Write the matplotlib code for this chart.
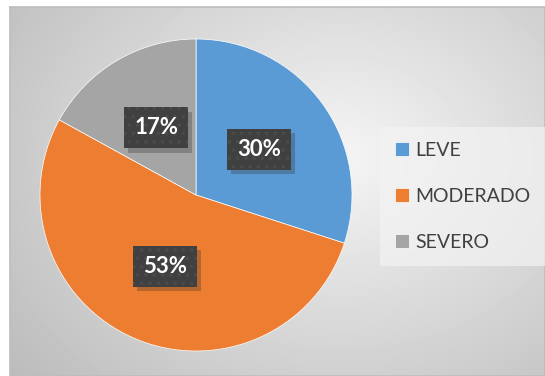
import numpy as np
import matplotlib
matplotlib.use('Agg')
import matplotlib.pyplot as plt
import matplotlib.patheffects as pe

categories = ['LEVE', 'MODERADO', 'SEVERO']
shares = [30, 53, 17]
colors = ['#5B9BD5', '#ED7D31', '#A5A5A5']


class PlainShadow(pe.SimplePatchShadow):
    """Drop shadow that ignores the hatch of the patch it follows."""

    def draw_path(self, renderer, gc, tpath, affine, rgbFace):
        gc1 = renderer.new_gc()
        gc1.copy_properties(gc)
        gc1.set_hatch(None)
        super().draw_path(renderer, gc1, tpath, affine, rgbFace)
        gc1.restore()


W, H = 545, 376
fig = plt.figure(figsize=(W / 100, H / 100), dpi=100)
fig.patch.set_facecolor('white')

# chart area with a soft radial grey gradient
bg = fig.add_axes([10 / W, 0, (W - 10) / W, (H - 7) / H])
yy, xx = np.mgrid[0:369, 0:535]
d = np.hypot((xx - 330) / 420, (yy - 150) / 330)
shade = 0.96 - 0.22 * np.clip(d, 0, 1.2)
bg.imshow(shade, cmap='gray', vmin=0, vmax=1, aspect='auto', interpolation='bilinear')
bg.set_xticks([])
bg.set_yticks([])
for s in bg.spines.values():
    s.set_color('#bdbdbd')
    s.set_linewidth(1.2)

# pie
R = 156
cx, cy = 196, H - 195
ax = fig.add_axes([(cx - R) / W, (cy - R) / H, 2 * R / W, 2 * R / H])
wedges, texts, autotexts = ax.pie(
    shares, colors=colors, startangle=90, counterclock=False,
    autopct='%1.0f%%', pctdistance=0.5,
    wedgeprops=dict(linewidth=0.5, edgecolor='white'),
    textprops=dict(color='white', fontsize=16, fontweight='bold', family='Lato'))
ax.set_xlim(-1, 1)
ax.set_ylim(-1, 1)
ax.set_aspect('equal')

plt.rcParams['hatch.linewidth'] = 1.5
for t in autotexts:
    t.set_bbox(dict(boxstyle='square,pad=0.45', fc='#404040', ec='#4a4a4a', lw=0, hatch='..'))
    t.get_bbox_patch().set_path_effects([
        PlainShadow(offset=(3, -3), shadow_rgbFace='#333333', alpha=0.3),
        pe.Normal()])

leg = fig.legend(wedges, categories, loc='upper left',
                 bbox_to_anchor=(380 / W, 1 - 127 / H),
                 prop=dict(family='Lato', size=14), labelcolor='#404040',
                 frameon=True, facecolor='#f3f3f3', edgecolor='none', framealpha=0.7,
                 fancybox=False, handlelength=0.72, handleheight=0.72,
                 handletextpad=0.35, labelspacing=1.5, borderpad=0.75, borderaxespad=0)

fig.savefig('out.png', dpi=100)
